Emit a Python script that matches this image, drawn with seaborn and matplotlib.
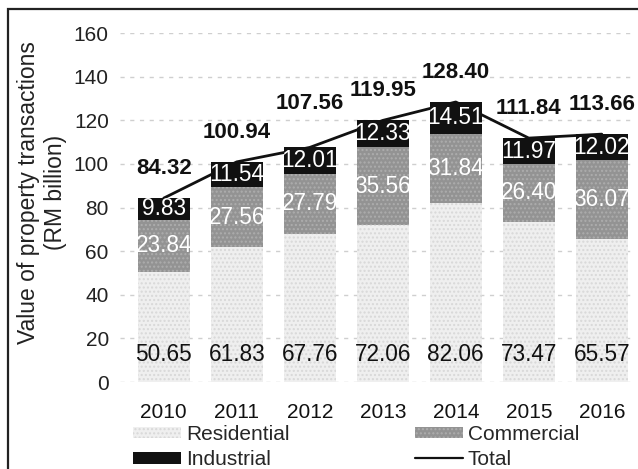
import numpy as np
import pandas as pd
import matplotlib
matplotlib.use("Agg")
import matplotlib.pyplot as plt
from matplotlib.patches import Patch, Rectangle
from matplotlib.lines import Line2D
import seaborn as sns

years = ["2010", "2011", "2012", "2013", "2014", "2015", "2016"]
residential = [50.65, 61.83, 67.76, 72.06, 82.06, 73.47, 65.57]
commercial = [23.84, 27.56, 27.79, 35.56, 31.84, 26.40, 36.07]
industrial = [9.83, 11.54, 12.01, 12.33, 14.51, 11.97, 12.02]
total = [84.32, 100.94, 107.56, 119.95, 128.40, 111.84, 113.66]
y_ticks = [0, 20, 40, 60, 80, 100, 120, 140, 160]

sns.set_theme(style="white")
plt.rcParams["font.family"] = ["Liberation Sans", "DejaVu Sans"]
plt.rcParams["hatch.linewidth"] = 1.0

df = pd.DataFrame({
    "year": years,
    "res": residential,
    "com": commercial,
    "ind": industrial,
    "total": total,
})
df["res_com"] = df["res"] + df["com"]
df["stack"] = df["res_com"] + df["ind"]

fig = plt.figure(figsize=(6.38, 4.69), dpi=100)
ax = fig.add_axes([0.188, 0.1855, 0.801, 0.744])

RES_C = "#efefef"
COM_C = "#939393"
IND_C = "#111111"
FS = 15

# cumulative layers drawn back to front
sns.barplot(data=df, x="year", y="stack", color=IND_C, width=0.71,
            saturation=1, ax=ax, linewidth=0, zorder=2)
sns.barplot(data=df, x="year", y="res_com", color=COM_C, width=0.71,
            saturation=1, ax=ax, linewidth=0, zorder=2,
            hatch="....", edgecolor="#adadad")
sns.barplot(data=df, x="year", y="res", color=RES_C, width=0.71,
            saturation=1, ax=ax, linewidth=0, zorder=2,
            hatch="....", edgecolor="#d8d8d8")

pos = np.arange(len(years))
sns.lineplot(x=pos, y=df["total"].values, color="#111111", linewidth=2,
             ax=ax, zorder=4)

for i in range(len(years)):
    ax.text(i, 12.4, f"{residential[i]:.2f}", ha="center", va="center",
            fontsize=FS + 1.3, color="#111111", zorder=5)
    ax.text(i, residential[i] + commercial[i] / 2, f"{commercial[i]:.2f}",
            ha="center", va="center", fontsize=FS + 1.3, color="white", zorder=5)
    ax.text(i, residential[i] + commercial[i] + industrial[i] / 2,
            f"{industrial[i]:.2f}", ha="center", va="center",
            fontsize=FS + 1.3, color="white", zorder=5)
    lift = 20 if years[i] == "2012" else 13.5
    ax.text(i, total[i] + lift, f"{total[i]:.2f}", ha="center", va="center",
            fontsize=FS + 1, fontweight="bold", color="#111111", zorder=5)

ax.set_ylim(0, 160)
ax.set_xlim(-0.6, 6.4)
ax.set_yticks(y_ticks)
ax.set_yticklabels([str(t) for t in y_ticks])
ax.yaxis.grid(True, color="#cfcfcf", linestyle=(0, (3, 4)), linewidth=1, zorder=0)
ax.xaxis.grid(False)
ax.set_axisbelow(True)
for s in ax.spines.values():
    s.set_visible(False)
ax.tick_params(axis="y", length=0, pad=8, labelsize=FS, labelcolor="#222222")
ax.tick_params(axis="x", length=0, pad=15, labelsize=FS, labelcolor="#111111")
ax.set_xlabel("")
ax.set_ylabel("")

fig.text(0.066, 0.59, "Value of property transactions\n(RM billion)",
         rotation=90, ha="center", va="center", fontsize=16.5,
         color="#222222", linespacing=1.25)

handles = [
    Patch(facecolor=RES_C, hatch="....", edgecolor="#d8d8d8", linewidth=0),
    Patch(facecolor=IND_C, linewidth=0),
    Patch(facecolor=COM_C, hatch="....", edgecolor="#adadad", linewidth=0),
    Line2D([0], [0], color="#111111", linewidth=1.6),
]
labels = ["Residential", "Industrial", "Commercial", "Total"]
fig.legend(handles, labels, ncol=2, loc="upper left",
           bbox_to_anchor=(133 / 638, 0.094), frameon=False, fontsize=FS,
           handlelength=2.3, handleheight=0.5, handletextpad=0.25,
           columnspacing=6.0, labelspacing=0.3, borderaxespad=0, borderpad=0)

# outer frame
fig.add_artist(Rectangle((8 / 638, -0.1), 1.2, (469 - 9) / 469 + 0.1,
                         transform=fig.transFigure, fill=False,
                         edgecolor="#222222", linewidth=1.6))

fig.savefig("out.png", dpi=100, facecolor="white")
